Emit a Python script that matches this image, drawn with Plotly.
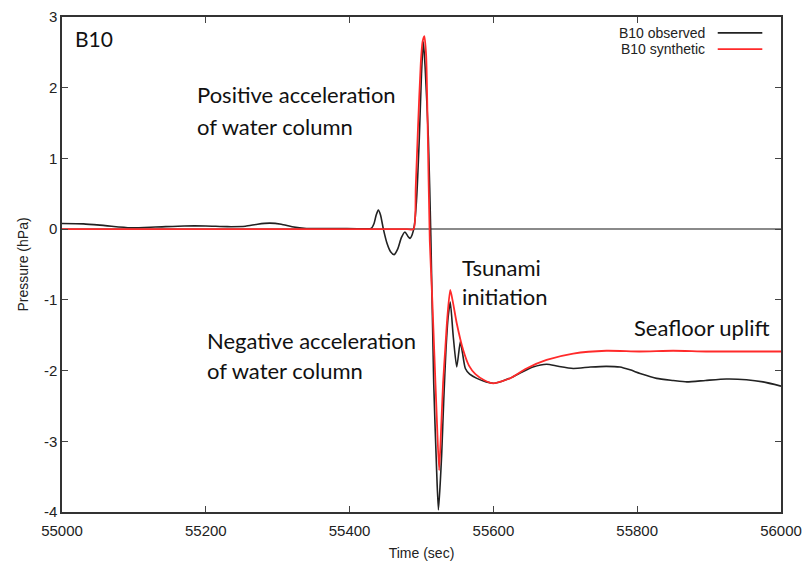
import plotly.graph_objects as go

# ---- data ----
obs_t = [55000, 55030, 55060, 55095, 55130, 55170, 55200, 55230, 55255, 55272,
         55289, 55305, 55320, 55340, 55380, 55420, 55430, 55434, 55437, 55440,
         55443, 55447, 55452, 55457, 55462, 55467, 55472, 55477, 55481, 55484,
         55487, 55490, 55493, 55497, 55500, 55502.6, 55505, 55509.5, 55513,
         55517, 55521, 55523.5, 55526, 55528, 55531, 55534, 55537, 55540, 55544,
         55549, 55554, 55557, 55561, 55567, 55577, 55590, 55600, 55612, 55625,
         55640, 55655, 55674, 55690, 55711, 55735, 55757, 55776, 55790, 55804,
         55827, 55850, 55869, 55895, 55924, 55952, 55975, 56000]
obs_p = [0.08, 0.075, 0.05, 0.02, 0.03, 0.045, 0.045, 0.035, 0.04, 0.07,
         0.085, 0.07, 0.035, 0.01, 0.01, 0.005, 0.01, 0.08, 0.2, 0.27,
         0.2, 0.0, -0.2, -0.32, -0.36, -0.28, -0.12, -0.04, -0.1, -0.13,
         -0.08, 0.05, 0.4, 1.3, 2.2, 2.65, 2.3, 1.3, -0.1,
         -2.18, -3.4, -3.97, -3.6, -3.2, -2.4, -1.71, -1.25, -1.03, -1.5,
         -1.95, -1.59, -1.75, -1.97, -2.05, -2.11, -2.16, -2.18, -2.15, -2.1,
         -2.02, -1.95, -1.91, -1.94, -1.97, -1.95, -1.94, -1.95, -1.99, -2.04,
         -2.11, -2.14, -2.16, -2.14, -2.12, -2.13, -2.16, -2.22]

syn_t = [55000, 55200, 55400, 55480, 55489, 55492, 55495, 55499, 55501.5, 55504,
         55506.5, 55508.5, 55511.5, 55515, 55518, 55521, 55524.5, 55527, 55530, 55533,
         55536, 55540, 55544, 55549, 55558, 55566, 55575, 55588, 55600, 55623,
         55646, 55674, 55711, 55757, 55803, 55850, 55896, 55950, 56000]
syn_p = [0.0, 0.0, 0.0, 0.0, 0.0, 0.6, 1.4, 2.35, 2.65, 2.73,
         2.45, 1.5, -0.16, -1.0, -1.8, -2.6, -3.41, -2.9, -2.18, -1.7,
         -1.24, -0.86, -1.05, -1.33, -1.71, -1.93, -2.05, -2.14, -2.18, -2.11,
         -1.97, -1.85, -1.76, -1.72, -1.73, -1.72, -1.73, -1.73, -1.73]

x_ticks = [55000, 55200, 55400, 55600, 55800, 56000]
x_ticktext = ["55000", "55200", "55400", "55600", "55800", "56000"]
y_ticks = [-4, -3, -2, -1, 0, 1, 2, 3]
y_ticktext = ["-4", "-3", "-2", "-1", "0", "1", "2", "3"]

labels = [
    ("B10", 55015, 2.69, 21),
    ("Positive acceleration", 55185, 1.90, 22),
    ("of water column", 55185, 1.455, 22),
    ("Negative acceleration", 55199, -1.57, 22),
    ("of water column", 55199, -2.0, 22),
    ("Tsunami", 55553, -0.54, 22),
    ("initiation", 55553, -0.95, 22),
    ("Seafloor uplift", 55793, -1.39, 22),
]

fig = go.Figure()
fig.add_trace(go.Scatter(x=obs_t, y=obs_p, mode="lines", name="B10 observed",
                         line=dict(color="#222222", width=1.6, shape="spline", smoothing=0.6)))
fig.add_trace(go.Scatter(x=syn_t, y=syn_p, mode="lines", name="B10 synthetic",
                         line=dict(color="#ff2a2a", width=1.8, shape="spline", smoothing=0.6)))

tickfont = dict(family="Liberation Sans, Arial", size=15, color="#222222")
fig.update_xaxes(range=[55000, 56000], tickvals=x_ticks, ticktext=x_ticktext, ticks="inside", ticklen=6,
                 tickcolor="#444", showline=True, linecolor="#333", linewidth=1.5,
                 mirror="allticks", showgrid=False, zeroline=False, tickfont=tickfont,
                 automargin=False, ticklabelstandoff=4,
                 title=dict(text="Time (sec)", font=dict(family="Liberation Sans, Arial", size=14, color="#222"), standoff=14))
fig.update_yaxes(range=[-4, 3], tickvals=y_ticks, ticktext=y_ticktext, ticks="inside", ticklen=6,
                 tickcolor="#444", showline=True, linecolor="#333", linewidth=1.5,
                 mirror="allticks", showgrid=False, zeroline=True, zerolinecolor="#8a8a8a",
                 zerolinewidth=1.5, tickfont=tickfont, automargin=False,
                 title=dict(text="Pressure (hPa)", font=dict(family="Liberation Sans, Arial", size=14, color="#222"), standoff=12))

for txt, x, y, s in labels:
    fig.add_annotation(x=x, y=y, xref="x", yref="y", text=txt, showarrow=False,
                       xanchor="left", yanchor="middle",
                       font=dict(family="Lato, Noto Sans", size=s, color="#111111"))

# legend drawn manually (text left, sample line right)
leg = [("B10 observed", "#222222", 0.968), ("B10 synthetic", "#ff2a2a", 0.935)]
for name, col, yp in leg:
    fig.add_annotation(x=0.897, y=yp, xref="paper", yref="paper", text=name, showarrow=False,
                       xanchor="right", yanchor="middle",
                       font=dict(family="Liberation Sans, Arial", size=14, color="#222"))
    fig.add_shape(type="line", xref="paper", yref="paper", x0=0.912, x1=0.974, y0=yp, y1=yp,
                  line=dict(color=col, width=1.8))

fig.update_layout(width=807, height=561, margin=dict(l=62, r=26, t=17, b=49, autoexpand=False),
                  plot_bgcolor="white", paper_bgcolor="white", showlegend=False)
fig.write_html("out.html")
